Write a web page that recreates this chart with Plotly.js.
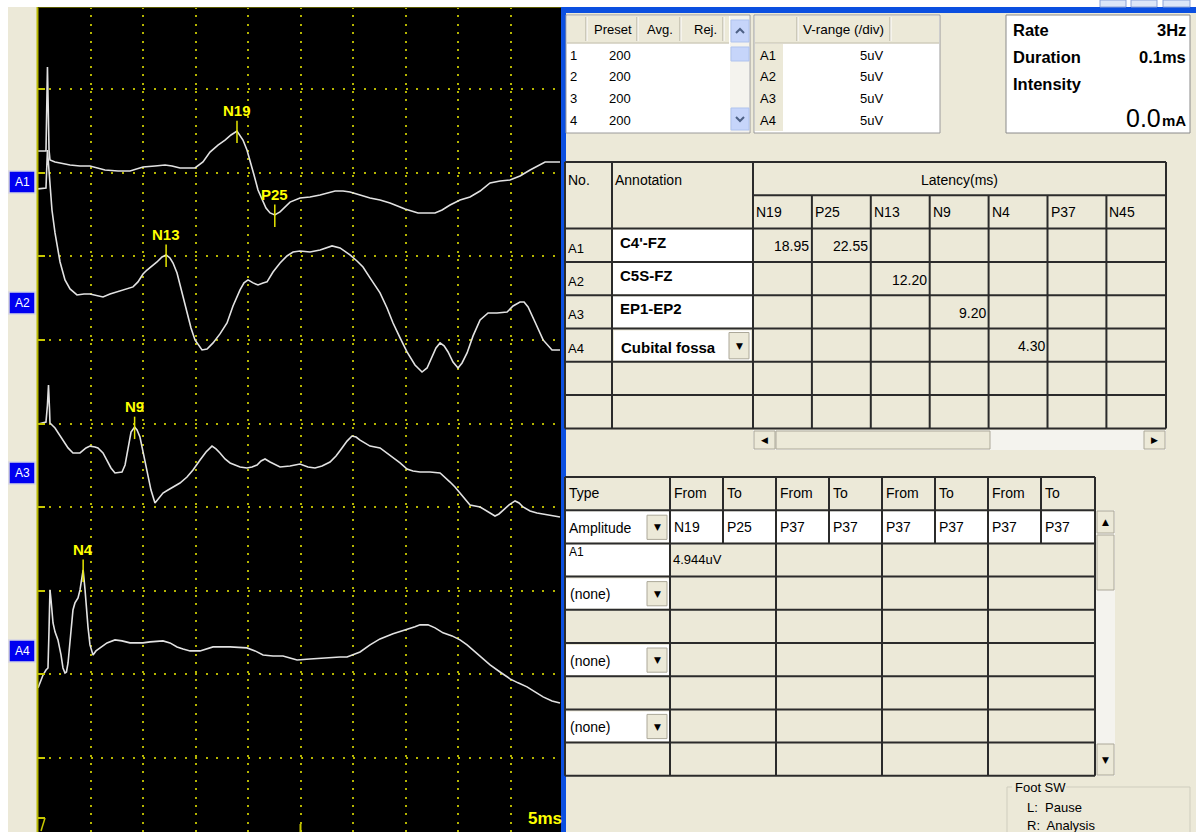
<!DOCTYPE html>
<html><head><meta charset="utf-8">
<script src="https://cdn.plot.ly/plotly-3.0.1.min.js"></script>
<style>html,body{margin:0;padding:0;background:#fff;overflow:hidden}#chart{width:1196px;height:832px}</style>
</head><body><div id="chart"></div>
<script>
// ---------------- DATA ----------------
const channels = ['A1','A2','A3','A4'];
// time in ms, amplitude in uV (negative = up)
const a1Time = [0.00,0.76,0.90,1.05,1.14,1.62,2.10,3.05,4.00,4.95,6.38,7.62,8.76,10.00,11.14,12.10,12.76,13.52,14.95,15.71,16.38,17.14,17.81,18.38,18.95,19.24,19.52,19.90,20.19,20.57,20.95,21.33,21.71,22.10,22.55,23.05,23.52,24.00,24.95,25.90,26.86,28.29,29.05,29.71,30.67,31.62,32.57,33.52,34.95,36.19,37.81,38.48,39.24,40.19,41.14,42.10,43.05,44.00,44.95,45.90,46.86,47.52,48.29,49.71];
const a1Amp = [-1.85,-1.85,-6.88,-1.91,-1.32,-1.20,-1.14,-1.02,-0.96,-0.96,-0.72,-0.66,-0.66,-0.90,-0.96,-1.02,-0.96,-0.84,-0.84,-1.20,-1.79,-2.21,-2.51,-2.81,-3.05,-2.81,-2.51,-1.91,-1.32,-0.42,0.48,1.08,1.56,1.85,1.97,1.79,1.50,1.20,0.96,0.90,0.78,0.54,0.54,0.60,0.78,0.96,1.08,1.26,1.61,1.85,1.85,1.67,1.38,1.08,0.90,0.54,0.06,-0.06,-0.12,-0.36,-0.72,-0.96,-1.20,-1.20];
const a2Time = [0,0.76,0.90,1.05,1.14,1.33,1.62,1.90,2.10,2.57,3.05,3.71,4.38,4.95,5.62,6.19,6.86,7.52,8.29,9.05,9.52,10.00,10.38,10.86,11.33,11.81,12.20,12.57,12.86,13.24,13.52,13.90,14.19,14.57,14.95,15.62,16.10,16.67,17.33,18.00,18.57,19.24,19.62,20.00,20.48,20.95,21.43,21.81,22.38,23.05,23.71,24.29,24.95,25.90,26.86,28.00,28.76,29.71,30.38,30.95,31.62,32.10,32.57,33.24,33.81,34.48,35.14,35.90,36.57,37.05,37.52,37.90,38.29,38.67,39.05,39.52,40.00,40.38,40.86,41.43,42.10,42.86,43.71,44.67,45.24,45.90,46.29,46.67,47.33,48.10,48.95,49.71];
const a2Amp = [-6.82,-6.88,-9.15,-7.66,-6.94,-5.56,-4.19,-3.17,-2.45,-1.38,-0.84,-0.48,-0.54,-0.54,-0.42,-0.36,-0.54,-0.66,-0.78,-0.96,-1.26,-1.73,-1.97,-2.21,-2.45,-2.75,-2.87,-2.69,-2.39,-1.79,-1.08,-0.18,0.60,1.50,2.21,2.81,2.75,2.39,1.85,1.20,0.18,-0.78,-1.20,-1.38,-1.20,-1.08,-1.20,-1.26,-1.85,-2.39,-2.81,-3.05,-3.11,-3.05,-3.17,-3.41,-3.29,-2.87,-2.51,-2.15,-1.50,-1.08,-0.60,0.30,1.20,2.09,2.93,3.71,4.13,3.89,3.23,2.69,2.39,2.57,2.93,3.53,3.89,3.59,2.99,1.97,1.02,0.60,0.60,0.54,0.18,-0.06,-0.06,0.24,1.14,2.21,2.81,2.81];
const a3Time = [0,0.76,0.90,1.00,1.10,1.14,1.62,2.38,2.86,3.33,4.00,4.57,4.95,5.43,5.71,6.19,6.57,6.95,7.33,8.00,8.29,8.48,8.67,8.86,9.20,9.43,9.71,10.00,10.38,10.76,11.14,11.52,11.90,12.38,12.86,13.52,14.19,14.76,15.43,16.00,16.57,16.95,17.33,17.81,18.29,19.24,19.90,20.38,20.86,21.24,21.62,22.10,23.05,24.00,24.95,25.71,26.38,27.05,27.81,28.38,28.95,29.43,29.90,30.29,30.67,31.14,31.62,32.57,33.24,33.81,34.48,35.14,35.71,36.38,37.33,38.29,38.76,39.24,39.71,40.19,40.67,41.14,42.10,42.86,43.52,43.90,44.29,44.86,45.43,45.81,46.19,46.86,47.52,48.48,49.05,49.71];
const a3Amp = [-2.93,-3.05,-4.07,-5.26,-3.77,-2.99,-2.69,-1.97,-1.50,-1.20,-1.20,-1.50,-1.61,-1.56,-1.50,-1.20,-0.78,-0.30,0.00,-0.06,-0.48,-1.20,-1.85,-2.45,-2.75,-2.57,-2.15,-1.26,0.00,1.02,1.79,1.50,1.20,1.02,0.84,0.60,0.24,-0.18,-0.78,-1.26,-1.61,-1.44,-1.20,-0.84,-0.60,-0.36,-0.30,-0.36,-0.48,-0.72,-0.84,-0.66,-0.36,-0.42,-0.54,-0.36,-0.30,-0.42,-0.66,-1.02,-1.50,-1.91,-2.21,-2.15,-1.97,-1.79,-1.61,-1.50,-1.20,-0.90,-0.60,-0.24,-0.12,-0.06,-0.06,0.00,0.24,0.54,0.84,1.20,1.61,1.91,2.03,2.33,2.57,2.45,2.21,1.91,1.67,1.79,2.03,2.27,2.39,2.51,2.57,2.63];
const a4Time = [0.00,0.29,0.48,0.76,0.95,1.05,1.14,1.24,1.43,1.62,1.90,2.19,2.38,2.57,2.71,2.86,3.05,3.33,3.52,3.81,4.00,4.14,4.30,4.48,4.62,4.76,4.95,5.24,5.52,5.90,6.57,7.33,8.00,8.76,10.00,10.67,11.90,12.57,13.24,13.81,14.48,15.43,16.10,16.67,18.29,19.90,20.67,21.43,22.38,23.33,24.00,24.67,25.90,27.14,28.76,29.43,30.00,30.67,31.62,32.57,33.81,35.14,35.90,36.38,37.14,37.81,38.57,39.43,40.19,40.86,41.43,42.10,43.05,44.00,44.95,45.71,46.57,47.33,48.10,48.95,49.71];
const a4Amp = [2.21,1.73,1.44,1.14,1.02,-1.26,-3.65,-3.05,-1.67,-1.14,-0.66,0.24,1.02,1.32,1.26,0.72,-0.66,-2.45,-2.87,-3.17,-3.65,-4.25,-4.84,-3.65,-2.45,-1.44,-0.36,0.24,0.00,-0.18,-0.48,-0.66,-0.60,-0.48,-0.48,-0.54,-0.60,-0.48,-0.24,-0.12,0.00,0.00,-0.12,-0.24,-0.24,-0.18,0.00,0.24,0.30,0.30,0.42,0.54,0.48,0.42,0.36,0.36,0.24,0.06,-0.36,-0.72,-1.02,-1.26,-1.44,-1.56,-1.56,-1.38,-1.08,-0.90,-0.66,-0.36,-0.06,0.30,0.84,1.26,1.67,1.91,2.15,2.45,2.75,2.99,3.11];

const peakNames = ['N19','P25','N13','N9','N4'];
const peakLatency = [18.95,22.55,12.20,9.20,4.30];
const peakChannel = ['A1','A1','A2','A3','A4'];
const latencyColumns = ['N19','P25','N13','N9','N4','P37','N45'];
const channelAnnotations = ["C4'-FZ","C5S-FZ","EP1-EP2","Cubital fossa"];
const presetHeaders = ['Preset','Avg.','Rej.'];
const presetRows = ['1','2','3','4'];
const presetValues = ['200','200','200','200'];
const vRangeHeader = 'V-range (/div)';
const vRangeValues = ['5uV','5uV','5uV','5uV'];
const stimLabels = ['Rate','Duration','Intensity'];
const stimValues = ['3Hz','0.1ms'];
const intensityValue = '0.0';
const intensityUnit = 'mA';
const measureHeaders = ['Type','From','To','From','To','From','To','From','To'];
const measureType = 'Amplitude';
const measureFromTo = ['N19','P25','P37','P37','P37','P37','P37','P37'];
const measureChannel = 'A1';
const measureResult = ['4.944uV','','',''];
const otherTypes = ['(none)','(none)','(none)'];
const timeBaseLabel = '5ms';
const footSwTitle = 'Foot SW';
const footSwLines = ['L:  Pause','R:  Analysis'];

// ---------------- LAYOUT HELPERS ----------------
const W = 1196, H = 832;
const FONT = 'Liberation Sans, Arial, sans-serif';
const BEIGE = '#ECE9D8';
const TL = '#2B2B2B';
const shapes = [], ann = [];
const fx = x => x / W, fy = y => 1 - y / H;
function rect(x0,y0,x1,y1,fill,lc,lw){
  shapes.push({type:'rect',xref:'paper',yref:'paper',x0:fx(x0),x1:fx(x1),y0:fy(y1),y1:fy(y0),
    fillcolor:fill||'rgba(0,0,0,0)',line:{color:lc||'rgba(0,0,0,0)',width:lc?(lw||1):0},layer:'above'});
}
function line(x0,y0,x1,y1,c,w){
  shapes.push({type:'line',xref:'paper',yref:'paper',x0:fx(x0),x1:fx(x1),y0:fy(y0),y1:fy(y1),line:{color:c,width:w||1},layer:'above'});
}
function chevron(cx,cy,up){
  const d = up ? 1 : -1;
  shapes.push({type:'path',xref:'paper',yref:'paper',layer:'above',
    path:`M ${fx(cx-4)} ${fy(cy+2*d)} L ${fx(cx)} ${fy(cy-2*d)} L ${fx(cx+4)} ${fy(cy+2*d)}`,
    line:{color:'#4D6185',width:2}});
}
function text(x,y,t,o){
  o = o || {};
  ann.push({xref:'paper',yref:'paper',x:fx(x),y:fy(y),text:o.bold?'<b>'+t+'</b>':t,showarrow:false,
    xanchor:o.anchor||'left',yanchor:'middle',borderpad:0,
    font:{family:o.family||FONT,size:o.size||13,color:o.color||'#000'}});
}
function headerSep(x,y0,y1){ line(x,y0,x,y1,'#ACA899',1); line(x+1,y0,x+1,y1,'#FFFFFF',1); }
function button(x0,y0,x1,y1,glyph){
  rect(x0,y0,x1,y1,BEIGE,'#ACA899',1);
  if(glyph) text((x0+x1)/2,(y0+y1)/2,glyph,{anchor:'center',size:9,family:'DejaVu Sans'});
}
function interp(t,a,x){
  for(let i=0;i<t.length-1;i++){
    if(x>=t[i] && x<=t[i+1]){ const f=(x-t[i])/(t[i+1]-t[i]||1); return a[i]+f*(a[i+1]-a[i]); }
  }
  return a[a.length-1];
}

// ---------------- WAVEFORM PANEL ----------------
const series = {A1:[a1Time,a1Amp],A2:[a2Time,a2Amp],A3:[a3Time,a3Amp],A4:[a4Time,a4Amp]};
const offsets = {A1:10.556,A2:17.79,A3:27.96,A4:38.60};
const labelY = [182,303,473,651];
const traces = channels.map(ch => {
  const [t,a] = series[ch];
  return {type:'scatter',mode:'lines',x:t,y:a.map(v=>v+offsets[ch]),
    line:{color:'#E2E2E2',width:1.6},hoverinfo:'skip'};
});
peakNames.forEach((nm,i)=>{
  const ch = peakChannel[i], lat = peakLatency[i];
  const [t,a] = series[ch];
  const u = offsets[ch] + interp(t,a,lat);
  traces.push({type:'scatter',mode:'lines',x:[lat,lat],y:[u-0.62,u+0.72],
    line:{color:'#E6E600',width:1.5},hoverinfo:'skip'});
  ann.push({xref:'x',yref:'y',x:lat,y:u-0.62,text:'<b>'+nm+'</b>',showarrow:false,
    xanchor:'center',yanchor:'bottom',yshift:1,borderpad:0,
    font:{family:FONT,size:15,color:'#FFFF00'}});
});

// frame pieces
rect(0,0,W,7,'#FFFFFF');
rect(0,0,8,H,'#FFFFFF');
line(37.5,7,37.5,H,'#B8B800',2);
line(38,7.5,562,7.5,'#5A5A00',1);
line(38,818,45,818,'#C8C800',2); line(45,818,41,831,'#C8C800',1.5);
line(300.5,824,300.5,832,'#C8C800',2);
channels.forEach((ch,i)=>{
  rect(9,labelY[i]-11,35,labelY[i]+11,'#0000F0','#D4D4E4',1.5);
  text(22,labelY[i],ch,{anchor:'center',size:12,color:'#FFFFFF'});
});
text(563,818,timeBaseLabel,{anchor:'right',size:17,color:'#FFFF00',bold:true});

// window chrome
rect(562,7,W,13,'#0B4FE0');
rect(561,7,566,H,'#0B4FE0');
[[1100,1126],[1131,1157],[1163,1190]].forEach(([a,b])=>rect(a,0,b,7,'#DCE6F8','#8AA2D8',1));

// ---------------- PRESET TABLE ----------------
rect(566,15,750,133,'#FFFFFF','#9A9A9A',1);
rect(567,16,729,43,BEIGE);
[586,637,680,723].forEach(x=>headerSep(x,17,41));
line(567,43,729,43,'#D0CCBC',1.5);
const presetHX = [593,646,693];
presetHeaders.forEach((h,i)=>text(presetHX[i],30,h));
presetRows.forEach((r,i)=>{
  const y = 55 + i*22;
  text(569,y,r);
  text(632,y,presetValues[i],{anchor:'right'});
});
rect(730,16,749,132,'#F4F3EE');
rect(731,20,749,42,'#C6D5FA','#AFC3EE',1); chevron(740,31,true);
rect(731,47,749,61,'#C6D5FA','#AFC3EE',1);
rect(731,108,749,130,'#C6D5FA','#AFC3EE',1); chevron(740,119,false);

// ---------------- V-RANGE TABLE ----------------
rect(754,15,940,133,'#FFFFFF','#9A9A9A',1);
rect(755,16,939,43,BEIGE);
[797,890].forEach(x=>headerSep(x,17,41));
line(755,43,939,43,'#D0CCBC',1.5);
text(802,30,vRangeHeader,{size:13.5});
rect(755,44,783,131,BEIGE);
channels.forEach((ch,i)=>{
  const y = 55 + i*22;
  text(759,y,ch);
  text(884,y,vRangeValues[i],{anchor:'right'});
});

// ---------------- STIMULUS BOX ----------------
rect(1006,15,1190,133,'#FFFFFF','#8A8A8A',1);
stimLabels.forEach((l,i)=>text(1012,30+i*27,l,{size:16.5,bold:true}));
stimValues.forEach((v,i)=>text(1187,30+i*27,v,{size:16.5,anchor:'right',bold:true}));
text(1187,121,intensityUnit,{size:15,anchor:'right',bold:true});
text(1162,118,intensityValue,{size:25,anchor:'right'});

// ---------------- LATENCY TABLE ----------------
const ltRows = [162,195.3,228.6,261.9,295.2,328.5,361.8,395.1,428.4];
const ltCol = [753,811.9,870.8,929.7,988.6,1047.5,1106.4,1165.3];
rect(565,162,1166,428.4,BEIGE);
for(let i=0;i<3;i++) rect(613,ltRows[2+i]+1,752,ltRows[3+i]-1,'#FFFFFF');
rect(614,ltRows[5]+2,751,ltRows[6]-1,'#FFFFFF');
button(729,ltRows[5]+4,749,ltRows[6]-3,'▼');
line(565,162,1166,162,TL,2);
line(753,195.3,1166,195.3,TL,2);
for(let k=2;k<ltRows.length;k++) line(565,ltRows[k],1166,ltRows[k],TL,2);
[565,612,753,1166].forEach(x=>line(x,162,x,428.4,TL,2));
for(let j=1;j<ltCol.length-1;j++) line(ltCol[j],195.3,ltCol[j],428.4,TL,2);
text(567,180,'No.',{size:14});
text(614,180,'Annotation',{size:14});
text((753+1166)/2,180,'Latency(ms)',{anchor:'center',size:14});
latencyColumns.forEach((c,j)=>text(ltCol[j]+2,212,c,{size:14}));
channels.forEach((ch,i)=>{
  const cy = (ltRows[2+i]+ltRows[3+i])/2;
  text(567,cy+3,ch,{size:13});
  if(i<3) text(619,cy-3,channelAnnotations[i],{size:15,bold:true});
  else text(620,cy+2,channelAnnotations[i],{size:15,bold:true});
});
peakNames.forEach((nm,i)=>{
  const r = channels.indexOf(peakChannel[i]);
  const c = latencyColumns.indexOf(nm);
  const cy = (ltRows[2+r]+ltRows[3+r])/2;
  text(ltCol[c+1]-2,cy+1,peakLatency[i].toFixed(2),{anchor:'right',size:14});
});
// horizontal scrollbar
rect(753,430,1166,450,'#F4F3EE');
button(754,431,775,449,'◀');
rect(776,431,990,449,BEIGE,'#ACA899',1);
button(1144,431,1165,449,'▶');

// ---------------- MEASUREMENT TABLE ----------------
const mtCol = [565,670,723,776,829,882,935,988,1041,1095];
const mtRow = [477,510.2,543.4,576.6,609.8,643,676.2,709.4,742.6,775.8];
rect(565,477,1095,775.8,BEIGE);
for(let j=1;j<mtCol.length-1;j++) rect(mtCol[j]+1,mtRow[1]+1,mtCol[j+1]-1,mtRow[2]-1,'#FFFFFF');
rect(566,mtRow[1]+1,669,mtRow[2]-1,'#FFFFFF');
button(647,mtRow[1]+5,667,mtRow[2]-4,'▼');
rect(566,mtRow[2]+1,669,mtRow[3]-1,'#FFFFFF');
otherTypes.forEach((t,i)=>{
  const r = 3 + i*2;
  rect(566,mtRow[r]+2,669,mtRow[r+1]-1,'#FFFFFF');
  button(647,mtRow[r]+5,667,mtRow[r+1]-4,'▼');
  text(569,(mtRow[r]+mtRow[r+1])/2+1,t,{size:14});
});
mtRow.forEach(y=>line(565,y,1095,y,TL,2));
mtCol.forEach((x,j)=>{
  if(j===0 || j===mtCol.length-1 || j%2===1) line(x,477,x,775.8,TL,2);
  else line(x,477,x,mtRow[2],TL,2);
});
measureHeaders.forEach((h,j)=>text(mtCol[j]+3,493,h,{size:14}));
text(568,528,measureType,{size:14});
measureFromTo.forEach((v,j)=>text(mtCol[j+1]+3,527,v,{size:14}));
text(568,552,measureChannel,{size:12});
measureResult.forEach((v,k)=>{ if(v) text(mtCol[1+2*k]+2,559,v,{size:13}); });
// vertical scrollbar
rect(1096,510.2,1115,775.8,'#F4F3EE');
button(1097,511,1114,533,'▲');
rect(1097,535,1114,590,BEIGE,'#ACA899',1);
button(1097,744,1114,775,'▼');

// ---------------- FOOT SW ----------------
rect(1007,787,1190,850,null,'#CFCDBE',1);
rect(1012,779,1066,795,BEIGE);
text(1014,787,footSwTitle,{size:13});
footSwLines.forEach((l,i)=>text(1026,807+i*18,l,{size:13}));

// ---------------- PLOT ----------------
const layout = {
  width:W,height:H,margin:{l:0,r:0,t:0,b:0},
  paper_bgcolor:BEIGE,plot_bgcolor:'#000000',showlegend:false,
  xaxis:{domain:[38/W,562/W],range:[0,49.9],tick0:0,dtick:5,showgrid:true,gridcolor:'#B4B400',
    gridwidth:2,griddash:'2px,6.4px',zeroline:false,showticklabels:false,ticks:'',showline:false},
  yaxis:{domain:[0,825/H],range:[49.43,0.09],tick0:0,dtick:5,showgrid:true,gridcolor:'#B4B400',
    gridwidth:2,griddash:'2px,8.5px',zeroline:false,showticklabels:false,ticks:'inside',ticklen:7,
    tickwidth:2,tickcolor:'#C8C800',showline:false},
  shapes:shapes,annotations:ann
};
Plotly.newPlot('chart',traces,layout,{displayModeBar:false,staticPlot:true});
</script>
</body></html>
